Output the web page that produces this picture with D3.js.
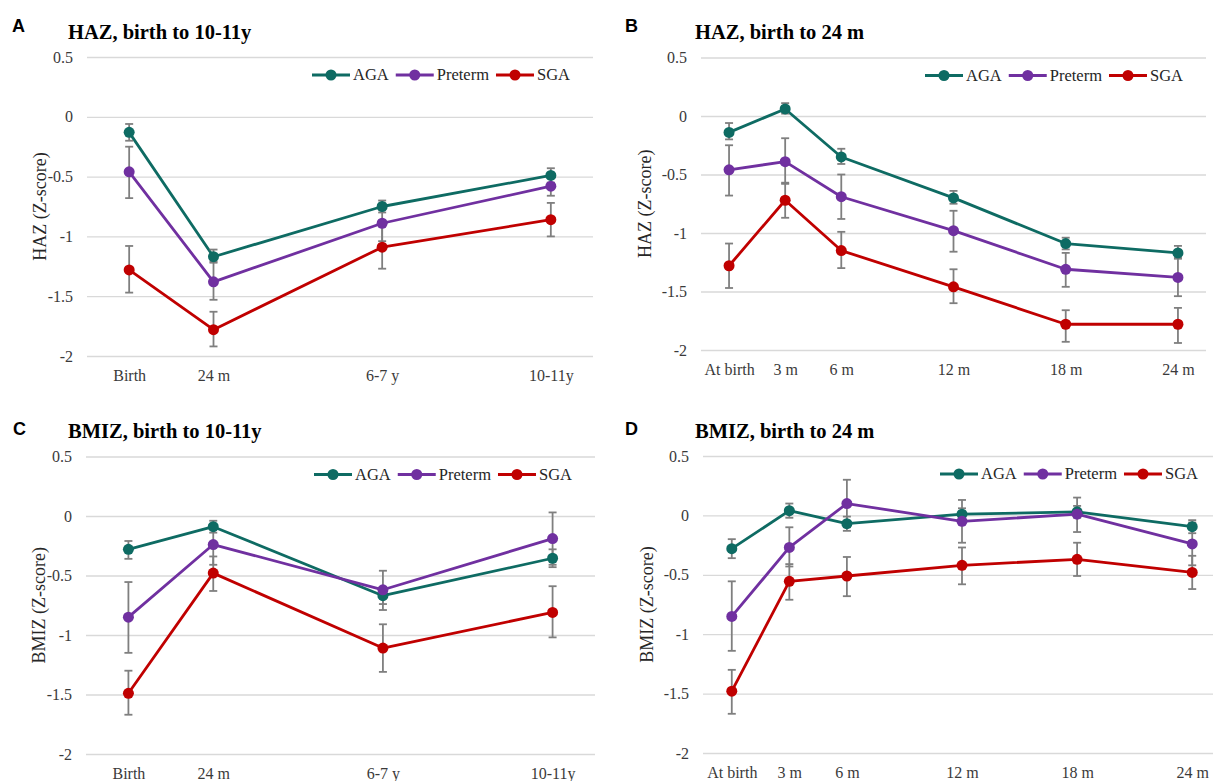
<!DOCTYPE html>
<html>
<head>
<meta charset="utf-8">
<script src="https://cdn.jsdelivr.net/npm/d3@7"></script>
<style>
  body { margin: 0; background: #fff; }
  svg { display: block; }
</style>
</head>
<body>
<div id="chart"></div>
<script>
var SERIF = "Liberation Serif, Times New Roman, serif";

// groups and colours
var groups = ["AGA", "Preterm", "SGA"];
var groupColors = ["#0e6b63", "#7030a0", "#c00000"];
var yTicks = [0.5, 0, -0.5, -1, -1.5, -2];

// birth to 10-11y : category slots (blank slots in between)
var longLabels = ["Birth", "24 m", "6-7 y", "10-11y"];
var longSlots = [0, 1, 3, 5];
// birth to 24 m : months
var shortLabels = ["At birth", "3 m", "6 m", "12 m", "18 m", "24 m"];
var shortMonths = [0, 3, 6, 12, 18, 24];

// A - HAZ, birth to 10-11y  (means, then [upper, lower] error bars)
var hazLongAGA = [-0.13, -1.17, -0.75, -0.49];
var hazLongAGAci = [[-0.06, -0.20], [-1.11, -1.22], [-0.70, -0.80], [-0.43, -0.55]];
var hazLongPre = [-0.46, -1.38, -0.89, -0.58];
var hazLongPreci = [[-0.25, -0.68], [-1.21, -1.53], [-0.74, -1.04], [-0.50, -0.66]];
var hazLongSGA = [-1.28, -1.78, -1.09, -0.86];
var hazLongSGAci = [[-1.08, -1.47], [-1.63, -1.92], [-0.91, -1.27], [-0.72, -1.00]];

// B - HAZ, birth to 24 m
var hazShortAGA = [-0.14, 0.06, -0.35, -0.70, -1.09, -1.17];
var hazShortAGAci = [[-0.06, -0.20], [0.11, 0.02], [-0.28, -0.41], [-0.64, -0.75], [-1.04, -1.14], [-1.11, -1.22]];
var hazShortPre = [-0.46, -0.39, -0.69, -0.98, -1.31, -1.38];
var hazShortPreci = [[-0.25, -0.68], [-0.19, -0.58], [-0.50, -0.88], [-0.81, -1.16], [-1.17, -1.46], [-1.21, -1.54]];
var hazShortSGA = [-1.28, -0.72, -1.15, -1.46, -1.78, -1.78];
var hazShortSGAci = [[-1.09, -1.47], [-0.57, -0.87], [-0.99, -1.30], [-1.31, -1.60], [-1.66, -1.93], [-1.64, -1.94]];

// C - BMIZ, birth to 10-11y
var bmiLongAGA = [-0.28, -0.09, -0.67, -0.355];
var bmiLongAGAci = [[-0.21, -0.36], [-0.04, -0.14], [-0.60, -0.74], [-0.28, -0.43]];
var bmiLongPre = [-0.85, -0.24, -0.62, -0.19];
var bmiLongPreci = [[-0.555, -1.15], [-0.08, -0.41], [-0.46, -0.79], [0.03, -0.41]];
var bmiLongSGA = [-1.49, -0.48, -1.11, -0.81];
var bmiLongSGAci = [[-1.30, -1.67], [-0.34, -0.63], [-0.91, -1.31], [-0.59, -1.02]];

// D - BMIZ, birth to 24 m
var bmiShortAGA = [-0.28, 0.04, -0.07, 0.01, 0.03, -0.095];
var bmiShortAGAci = [[-0.20, -0.36], [0.10, -0.02], [-0.01, -0.13], [0.06, -0.04], [0.08, -0.02], [-0.04, -0.15]];
var bmiShortPre = [-0.85, -0.27, 0.10, -0.05, 0.01, -0.24];
var bmiShortPreci = [[-0.555, -1.14], [-0.10, -0.43], [0.30, -0.10], [0.13, -0.23], [0.15, -0.14], [-0.06, -0.42]];
var bmiShortSGA = [-1.48, -0.555, -0.51, -0.42, -0.37, -0.48];
var bmiShortSGAci = [[-1.30, -1.67], [-0.41, -0.71], [-0.35, -0.68], [-0.27, -0.58], [-0.23, -0.51], [-0.34, -0.62]];

var svg = d3.select("#chart").append("svg")
    .attr("width", 1213)
    .attr("height", 781)
    .attr("font-family", SERIF)
    .style("background", "#fff");

var panels = [
  {letter: "A", lx: 12, ly: 32, title: "HAZ, birth to 10-11y", tx: 68, ty: 39, ylab: "HAZ (Z-score)", ylx: 40,
   labels: longLabels, xs: longSlots, xDomain: [-0.5, 5.5],
   left: 87, right: 593, top: 57, bottom: 356,
   series: [[hazLongAGA, hazLongAGAci], [hazLongPre, hazLongPreci], [hazLongSGA, hazLongSGAci]]},
  {letter: "B", lx: 625, ly: 32, title: "HAZ, birth to 24 m", tx: 695, ty: 39, ylab: "HAZ (Z-score)", ylx: 645,
   labels: shortLabels, xs: shortMonths, xDomain: [-1.5, 25.5],
   left: 701, right: 1206, top: 57.5, bottom: 350,
   series: [[hazShortAGA, hazShortAGAci], [hazShortPre, hazShortPreci], [hazShortSGA, hazShortSGAci]]},
  {letter: "C", lx: 13, ly: 435, title: "BMIZ, birth to 10-11y", tx: 68, ty: 438, ylab: "BMIZ (Z-score)", ylx: 39,
   labels: longLabels, xs: longSlots, xDomain: [-0.5, 5.5],
   left: 86, right: 595, top: 456.5, bottom: 754,
   series: [[bmiLongAGA, bmiLongAGAci], [bmiLongPre, bmiLongPreci], [bmiLongSGA, bmiLongSGAci]]},
  {letter: "D", lx: 625, ly: 435, title: "BMIZ, birth to 24 m", tx: 695, ty: 438, ylab: "BMIZ (Z-score)", ylx: 647,
   labels: shortLabels, xs: shortMonths, xDomain: [-1.5, 25.5],
   left: 703, right: 1221, top: 456, bottom: 753,
   series: [[bmiShortAGA, bmiShortAGAci], [bmiShortPre, bmiShortPreci], [bmiShortSGA, bmiShortSGAci]]}
];

panels.forEach(drawPanel);

function drawPanel(p) {
    var g = svg.append("g");

    var x = d3.scaleLinear().domain(p.xDomain).range([p.left, p.right]);
    var y = d3.scaleLinear().domain([-2, 0.5]).range([p.bottom, p.top]);

    // panel letter + title
    g.append("text")
        .attr("x", p.lx).attr("y", p.ly)
        .attr("font-family", "Liberation Sans, Arial, sans-serif")
        .attr("font-weight", "bold")
        .attr("font-size", 18)
        .text(p.letter);
    g.append("text")
        .attr("x", p.tx).attr("y", p.ty)
        .attr("font-weight", "bold")
        .attr("font-size", 20.5)
        .text(p.title);

    // y axis with gridlines
    var yAxis = g.append("g")
        .attr("transform", "translate(" + p.left + ",0)")
        .call(d3.axisLeft(y)
            .tickValues(yTicks)
            .tickSize(-(p.right - p.left))
            .tickPadding(14)
            .tickFormat(function(d) { return String(d); }))
        .attr("font-family", SERIF)
        .attr("font-size", 16);
    yAxis.select(".domain").remove();
    yAxis.selectAll("line").attr("stroke", "#d9d9d9").attr("stroke-width", 1.3);
    yAxis.selectAll("text").attr("fill", "#3a3a3a");

    // x axis labels
    var xAxis = g.append("g")
        .attr("transform", "translate(0," + p.bottom + ")")
        .call(d3.axisBottom(x)
            .tickValues(p.xs)
            .tickSize(0)
            .tickPadding(14)
            .tickFormat(function(d, i) { return p.labels[i]; }))
        .attr("font-family", SERIF)
        .attr("font-size", 16);
    xAxis.select(".domain").remove();
    xAxis.selectAll("text").attr("fill", "#3a3a3a");

    // y title
    g.append("text")
        .attr("transform", "translate(" + p.ylx + "," + ((p.top + p.bottom) / 2) + ")rotate(-90)")
        .attr("text-anchor", "middle")
        .attr("dy", "0.35em")
        .attr("font-size", 18)
        .attr("fill", "#262626")
        .text(p.ylab);

    var line = d3.line()
        .x(function(d) { return x(d.x); })
        .y(function(d) { return y(d.v); });

    var seriesData = p.series.map(function(s, k) {
        return s[0].map(function(v, i) {
            return {x: p.xs[i], v: v, hi: s[1][i][0], lo: s[1][i][1], k: k};
        });
    });

    // lines
    seriesData.forEach(function(d, k) {
        g.append("path")
            .datum(d)
            .attr("d", line)
            .attr("fill", "none")
            .attr("stroke", groupColors[k])
            .attr("stroke-width", 2.8)
            .attr("stroke-linejoin", "round");
    });

    // error bars
    seriesData.forEach(function(d) {
        var eb = g.append("g").selectAll("g").data(d).enter().append("g");
        eb.append("line")
            .attr("x1", function(e) { return x(e.x); })
            .attr("x2", function(e) { return x(e.x); })
            .attr("y1", function(e) { return y(e.hi); })
            .attr("y2", function(e) { return y(e.lo); });
        eb.append("line")
            .attr("x1", function(e) { return x(e.x) - 4; })
            .attr("x2", function(e) { return x(e.x) + 4; })
            .attr("y1", function(e) { return y(e.hi); })
            .attr("y2", function(e) { return y(e.hi); });
        eb.append("line")
            .attr("x1", function(e) { return x(e.x) - 4; })
            .attr("x2", function(e) { return x(e.x) + 4; })
            .attr("y1", function(e) { return y(e.lo); })
            .attr("y2", function(e) { return y(e.lo); });
        eb.selectAll("line").attr("stroke", "#7f7f7f").attr("stroke-width", 1.8);
    });

    // markers
    seriesData.forEach(function(d, k) {
        g.append("g").selectAll("circle")
            .data(d)
            .enter()
            .append("circle")
            .attr("cx", function(e) { return x(e.x); })
            .attr("cy", function(e) { return y(e.v); })
            .attr("r", 5.5)
            .attr("fill", groupColors[k]);
    });

    // legend, right aligned inside plot
    var leg = g.append("g");
    var cx = 0;
    groups.forEach(function(name, k) {
        var item = leg.append("g").attr("transform", "translate(" + cx + ",0)");
        item.append("line")
            .attr("x1", 0).attr("x2", 38)
            .attr("stroke", groupColors[k]).attr("stroke-width", 2.8);
        item.append("circle")
            .attr("cx", 19).attr("r", 5.5)
            .attr("fill", groupColors[k]);
        var t = item.append("text")
            .attr("x", 41)
            .attr("dy", "0.33em")
            .attr("font-size", 16.5)
            .attr("fill", "#262626")
            .text(name);
        cx += 41 + t.node().getComputedTextLength() + 7;
    });
    var legWidth = cx - 7;
    leg.attr("transform", "translate(" + (p.right - 23 - legWidth) + "," + (p.top + 18) + ")");
}
</script>
</body>
</html>
